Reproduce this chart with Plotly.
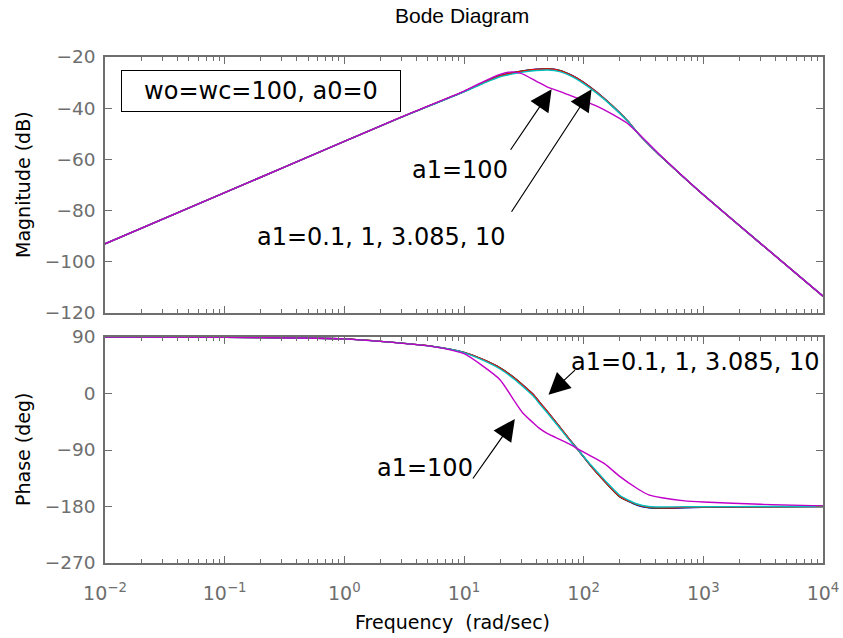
import math
import plotly.graph_objects as go

# ---------------- data ----------------
series_names = ["a1=0.1", "a1=1", "a1=3.085", "a1=10", "a1=100"]
series_colors = ["#0000FF", "#008000", "#FF0000", "#00BFBF", "#C000C8"]

w_mag = [0.01, 0.1, 1, 3, 10, 15, 20, 25, 30, 40, 50, 63, 80, 100, 130, 170,
         230, 300, 430, 600, 1000, 3000, 10000]
mag_a1_0p1 = [-93, -73, -53, -43.5, -33.5, -29.7, -27.3, -26.2, -25.5, -24.8, -24.6, -25.2,
              -27.2, -29.9, -33.9, -38.7, -44.7, -51, -58.3, -64.5, -73.8, -92.8, -113.4]
mag_a1_1 = [-93, -73, -53, -43.5, -33.5, -29.7, -27.3, -26.2, -25.5, -24.85, -24.65, -25.25,
            -27.25, -29.95, -33.95, -38.7, -44.7, -51, -58.3, -64.5, -73.8, -92.8, -113.4]
mag_a1_3p085 = [-93, -73, -53, -43.5, -33.5, -29.8, -27.4, -26.3, -25.6, -24.9, -24.7, -25.3,
                -27.3, -30, -34, -38.7, -44.7, -51, -58.3, -64.5, -73.8, -92.8, -113.4]
mag_a1_10 = [-93, -73, -53, -43.5, -33.6, -30.0, -27.7, -26.7, -26.0, -25.3, -25.1, -25.7,
             -27.7, -30.4, -34.3, -38.9, -44.8, -51, -58.3, -64.5, -73.8, -92.8, -113.4]
mag_a1_100 = [-93, -73, -53, -43.4, -33.3, -29.3, -26.8, -25.8, -26.4, -29.4, -31.8, -33.4,
              -35.3, -37.1, -39.3, -42.1, -45.8, -50.8, -58.1, -64.4, -73.8, -92.8, -113.4]

w_ph = [0.01, 0.1, 0.43, 1, 2, 5.5, 10, 14.5, 20, 26, 31, 38, 43, 50, 63, 75, 90,
        115, 150, 200, 280, 350, 450, 700, 1000, 3000, 10000]
ph_a1_0p1 = [89.9, 89.4, 88.4, 87, 83, 75, 65.5, 53.8, 40.8, 25.8, 13.5, -1.7, -14.4, -29.2,
             -53.2, -71.6, -90, -115.6, -140.3, -164.5, -178, -182, -183, -182, -181.3, -180.4, -180]
ph_a1_1 = [89.9, 89.4, 88.4, 87, 83, 75, 65.5, 53.8, 40.7, 25.6, 13.3, -1.9, -14.6, -29.4,
           -53.3, -71.7, -90, -115.5, -140.2, -164.3, -177.5, -181.5, -182.3, -181.5, -180.9, -180.3, -180]
ph_a1_3p085 = [89.9, 89.4, 88.4, 87, 83, 75, 65.5, 53.8, 40.6, 25.5, 13.2, -2, -14.7, -29.5,
               -53.4, -71.7, -90, -115.5, -140, -164, -177, -181, -182, -181.3, -180.8, -180.3, -180]
ph_a1_10 = [89.9, 89.4, 88.4, 87, 83, 74.8, 65, 52.6, 39, 23.5, 11, -4.5, -17, -31.5,
            -55, -73, -90, -114, -138, -162, -176, -180, -180.8, -180.5, -180.3, -180.1, -180]
ph_a1_100 = [89.9, 89.4, 88.4, 87, 83, 74.7, 63.4, 43.2, 22, -10, -31, -47, -56, -64,
             -73, -80, -88.5, -99.6, -112, -132, -151.3, -161.5, -166, -171, -172.8, -176.5, -179]

mag_series = [mag_a1_0p1, mag_a1_1, mag_a1_3p085, mag_a1_10, mag_a1_100]
ph_series = [ph_a1_0p1, ph_a1_1, ph_a1_3p085, ph_a1_10, ph_a1_100]

mag_ticks = [-120, -100, -80, -60, -40, -20]
ph_ticks = [-270, -180, -90, 0, 90]
x_ticks = [0.01, 0.1, 1, 10, 100, 1000, 10000]
x_ticktext = ["10<sup>\u22122</sup>", "10<sup>\u22121</sup>", "10<sup>0</sup>", "10<sup>1</sup>",
              "10<sup>2</sup>", "10<sup>3</sup>", "10<sup>4</sup>"]
minor_x = [m * 10 ** d for d in range(-2, 4) for m in range(2, 10)]

# ---------------- figure ----------------
W, H = 843, 638
L, R, T, B = 105, 20, 57, 75
PW, PH = W - L - R, H - T - B
top_px, bot_px = (57, 313), (337, 563)


def ydom(px):
    return (H - B - px) / PH


def xp(px):
    return (px - L) / PW


fig = go.Figure()
for name, col, m in zip(series_names, series_colors, mag_series):
    fig.add_trace(go.Scatter(x=w_mag, y=m, mode="lines", name=name, xaxis="x", yaxis="y",
                             line=dict(color=col, width=1.4, shape="spline", smoothing=0.6)))
for name, col, p in zip(series_names, series_colors, ph_series):
    fig.add_trace(go.Scatter(x=w_ph, y=p, mode="lines", name=name, xaxis="x2", yaxis="y2",
                             line=dict(color=col, width=1.4, shape="spline", smoothing=0.6)))

axcol = "#6E6E6E"
tickfont = dict(family="DejaVu Sans", size=18.5, color="#6E6E6E")
common_x = dict(type="log", range=[-2, 4], showgrid=False, zeroline=False, showline=True,
                linecolor=axcol, linewidth=1.5, mirror="ticks", ticks="inside", ticklen=7,
                tickcolor=axcol, tickwidth=1, tickvals=x_ticks, ticktext=x_ticktext,
                automargin=False,
                minor=dict(ticks="inside", ticklen=4, tickvals=minor_x, tickcolor=axcol, tickwidth=1),
                tickfont=dict(family="DejaVu Sans", size=19, color="#6E6E6E"))
common_y = dict(showgrid=False, zeroline=False, showline=True, linecolor=axcol, linewidth=1.5,
                mirror="ticks", ticks="inside", ticklen=7, tickcolor=axcol, tickwidth=1,
                tickfont=tickfont, ticklabelstandoff=4, automargin=False)

fig.update_layout(
    template="none",
    width=W, height=H, margin=dict(l=L, r=R, t=T, b=B),
    paper_bgcolor="white", plot_bgcolor="white", showlegend=False,
    xaxis=dict(common_x, domain=[0, 1], anchor="y", showticklabels=False),
    yaxis=dict(common_y, domain=[ydom(top_px[1]), 1], range=[-120, -20], tickvals=mag_ticks, anchor="x"),
    xaxis2=dict(common_x, domain=[0, 1], anchor="y2", showticklabels=True, ticklabelstandoff=12),
    yaxis2=dict(common_y, domain=[0, ydom(bot_px[0])], range=[-270, 90], tickvals=ph_ticks, anchor="x2"),
)

ann_font = dict(family="DejaVu Sans", size=24, color="black")
lab_font = dict(family="DejaVu Sans", size=19, color="black")


def txt(text, px, py, font, **kw):
    d = dict(text=text, x=xp(px), y=ydom(py), xref="paper", yref="paper",
             xanchor="center", yanchor="middle", showarrow=False, font=font)
    d.update(kw)
    return d


annotations = [
    txt("Bode Diagram", 462, 15, dict(family="Liberation Sans", size=21, color="black")),
    txt("Magnitude (dB)", 23, 185, lab_font, textangle=-90),
    txt("Phase (deg)", 23, 450, lab_font, textangle=-90),
    txt("Frequency  (rad/sec)", 452, 622, lab_font),
    txt("wo=wc=100, a0=0", 261, 91, ann_font, bordercolor="black", borderwidth=1,
        width=276, height=38, bgcolor="white"),
    txt("a1=100", 460, 170, ann_font),
    txt("a1=0.1, 1, 3.085, 10", 381, 237, ann_font),
    txt("a1=0.1, 1, 3.085, 10", 695, 362, ann_font),
    txt("a1=100", 425, 468, ann_font),
]
# arrows: (tip log10 w, tip value, axis, tail dx, tail dy)
arrows = [
    (1.732, -32.6, "1", -42, 62),
    (2.066, -32.6, "1", -81, 124),
    (1.706, -1.9, "2", 28, -26),
    (1.425, -40.6, "2", -43, 61),
]
for ax_, ay_v, k, dx, dy in arrows:
    annotations.append(dict(text="", x=ax_, y=ay_v, xref="x" if k == "1" else "x2",
                            yref="y" if k == "1" else "y2", showarrow=True, arrowhead=2,
                            arrowsize=3.6, arrowwidth=1.2, arrowcolor="black",
                            ax=dx, ay=dy, standoff=0, startstandoff=0))
fig.update_layout(annotations=annotations)

fig.write_html("out.html")
